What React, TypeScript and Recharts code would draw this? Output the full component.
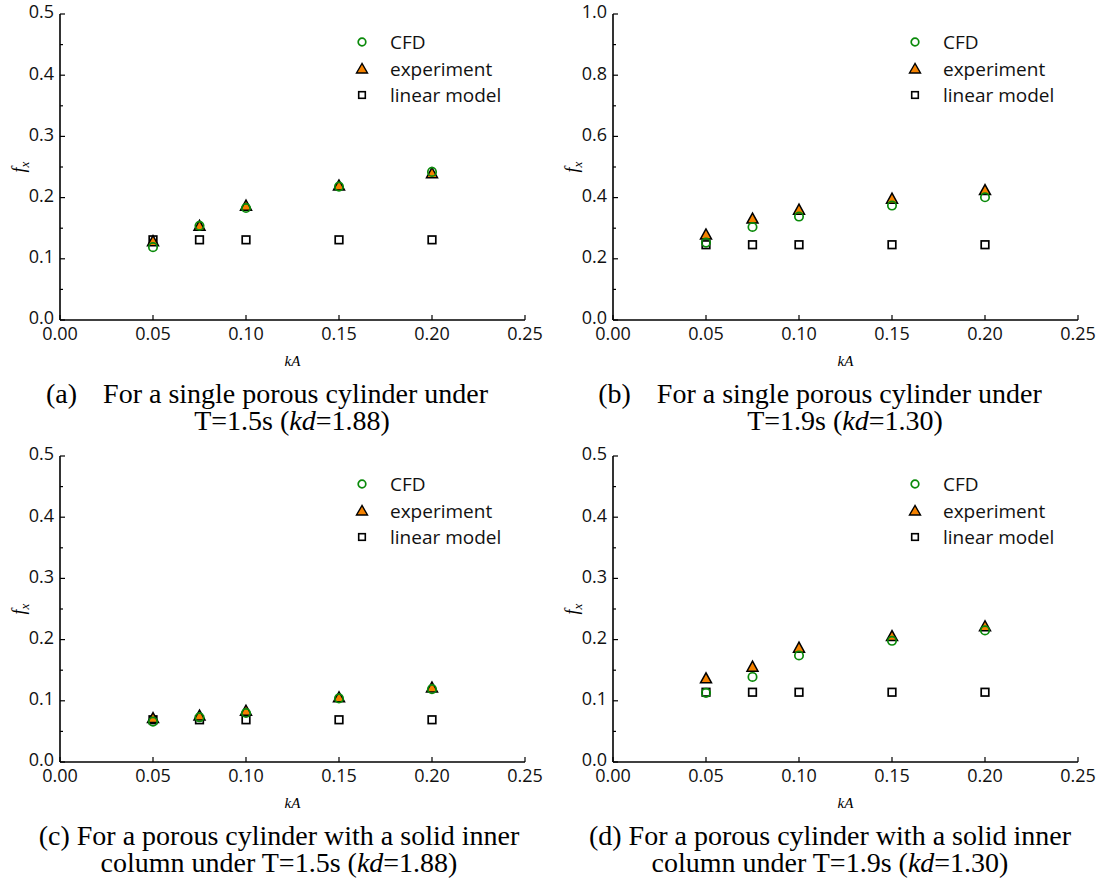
import React from 'react';
import { ScatterChart, Scatter, XAxis, YAxis, Legend, Label } from 'recharts';

const kA = [0.05, 0.075, 0.1, 0.15, 0.2];
const xTicks = [0, 0.05, 0.1, 0.15, 0.2, 0.25];
const yTicksHalf = [0, 0.05, 0.1, 0.15, 0.2, 0.25, 0.3, 0.35, 0.4, 0.45, 0.5];
const yMajorHalf = [0, 0.1, 0.2, 0.3, 0.4, 0.5];
const yTicksOne = [0, 0.1, 0.2, 0.3, 0.4, 0.5, 0.6, 0.7, 0.8, 0.9, 1.0];
const yMajorOne = [0, 0.2, 0.4, 0.6, 0.8, 1.0];

const cfdA = [0.119, 0.154, 0.183, 0.218, 0.242];
const expA = [0.128, 0.153, 0.186, 0.219, 0.239];
const linA = [0.131, 0.131, 0.131, 0.131, 0.131];

const cfdB = [0.253, 0.304, 0.338, 0.374, 0.401];
const expB = [0.278, 0.33, 0.359, 0.395, 0.423];
const linB = [0.246, 0.246, 0.246, 0.246, 0.246];

const cfdC = [0.066, 0.073, 0.08, 0.104, 0.119];
const expC = [0.071, 0.075, 0.083, 0.105, 0.121];
const linC = [0.069, 0.069, 0.069, 0.069, 0.069];

const cfdD = [0.113, 0.139, 0.174, 0.198, 0.215];
const expD = [0.136, 0.155, 0.186, 0.205, 0.221];
const linD = [0.114, 0.114, 0.114, 0.114, 0.114];

const seriesNames = ['CFD', 'experiment', 'linear model'];

const GREEN = '#0a8a0a';
const ORANGE = '#f58200';
const TICK_FONT = '"Open Sans", "Noto Sans", sans-serif';
const SERIF = '"Liberation Serif", "Times New Roman", serif';

const toPts = (vals: number[]) => kA.map((x, i) => ({ x, y: vals[i] }));

const CircleShape = (p: any) => (
  <circle cx={p.cx} cy={p.cy} r={4.2} fill="none" stroke={GREEN} strokeWidth={1.7} />
);
const TriShape = (p: any) => {
  const { cx, cy } = p;
  const h = 10;
  const w = 11;
  return (
    <polygon
      points={`${cx},${cy - h * 0.6} ${cx - w / 2},${cy + h * 0.4} ${cx + w / 2},${cy + h * 0.4}`}
      fill={ORANGE}
      stroke="#000"
      strokeWidth={1.5}
      strokeLinejoin="miter"
    />
  );
};
const SquareShape = (p: any) => (
  <rect x={p.cx - 3.8} y={p.cy - 3.8} width={7.6} height={7.6} fill="#fff" stroke="#000" strokeWidth={1.7} />
);

const BottomTick = (p: any) => {
  const { x, y, payload } = p;
  const axisY = y - 7;
  return (
    <g>
      <line x1={x} y1={axisY} x2={x} y2={axisY - 5} stroke="#000" strokeWidth={1.2} />
      <text x={x} y={y} dy="0.71em" textAnchor="middle" fontFamily={TICK_FONT} fontSize={18} fill="#111">
        {Number(payload.value).toFixed(2)}
      </text>
    </g>
  );
};

const TopTick = (p: any) => {
  const { x, y } = p;
  return <line x1={x} y1={y} x2={x} y2={y + 5} stroke="#000" strokeWidth={1.2} />;
};

const makeLeftTick = (majors: number[]) => (p: any) => {
  const { x, y, payload } = p;
  const axisX = x + 6;
  const v = payload.value;
  const isMajor = majors.some((m) => Math.abs(m - v) < 1e-9);
  return (
    <g>
      <line x1={axisX} y1={y} x2={axisX + (isMajor ? 5 : 3)} y2={y} stroke="#000" strokeWidth={1.2} />
      {isMajor ? (
        <text x={x} y={y - 2} dy="0.35em" textAnchor="end" fontFamily={TICK_FONT} fontSize={18} fill="#111">
          {Number(v).toFixed(1)}
        </text>
      ) : null}
    </g>
  );
};

const RightTick = (p: any) => {
  const { x, y } = p;
  return <line x1={x} y1={y} x2={x - 5} y2={y} stroke="#000" strokeWidth={1.2} />;
};

const FxLabel = (props: any) => {
  const vb = props.viewBox || {};
  const cx = vb.x + 15;
  const cy = vb.y + vb.height / 2;
  return (
    <text
      transform={`translate(${cx},${cy}) rotate(-90)`}
      textAnchor="middle"
      fontFamily={SERIF}
      fontStyle="italic"
      fontSize={18}
      fill="#000"
    >
      <tspan>f</tspan>
      <tspan dy={4} fontSize={13}>x</tspan>
    </text>
  );
};

const LegendBox = () => {
  const icons = [
    <circle key="c" cx={10} cy={10} r={3.8} fill="none" stroke={GREEN} strokeWidth={1.7} />,
    <polygon key="t" points="10,4.5 4.5,14 15.5,14" fill={ORANGE} stroke="#000" strokeWidth={1.4} />,
    <rect key="s" x={6.7} y={6.7} width={6.6} height={6.6} fill="#fff" stroke="#000" strokeWidth={1.6} />,
  ];
  return (
    <div style={{ fontFamily: TICK_FONT, fontSize: 19, color: '#111' }}>
      {seriesNames.map((n, i) => (
        <div key={n} style={{ display: 'flex', alignItems: 'center', height: 26.5 }}>
          <svg width={20} height={20} style={{ display: 'block' }}>
            {icons[i]}
          </svg>
          <span style={{ marginLeft: 18, lineHeight: '20px' }}>{n}</span>
        </div>
      ))}
    </div>
  );
};

type PanelProps = {
  cfd: number[];
  exp: number[];
  lin: number[];
  yMax: number;
  yTicks: number[];
  yMajor: number[];
};

const Panel = ({ cfd, exp, lin, yMax, yTicks, yMajor }: PanelProps) => {
  const LeftTick = makeLeftTick(yMajor);
  return (
    <ScatterChart width={545} height={380} margin={{ top: 14, right: 20, bottom: 30, left: 10 }}>
      <XAxis
        xAxisId={0}
        type="number"
        dataKey="x"
        domain={[0, 0.25]}
        ticks={xTicks}
        allowDataOverflow
        height={30}
        tickSize={0}
        tickMargin={7}
        tick={BottomTick}
        axisLine={{ stroke: '#000', strokeWidth: 1.6 }}
        interval={0}
      >
        <Label value="kA" position="bottom" offset={5} fontFamily={SERIF} fontStyle="italic" fontSize={15} fill="#000" />
      </XAxis>
      <XAxis
        xAxisId="top"
        orientation="top"
        type="number"
        domain={[0, 0.25]}
        ticks={xTicks}
        allowDataOverflow
        height={0}
        tickSize={0}
        tickMargin={0}
        tick={TopTick}
        axisLine={{ stroke: '#000', strokeWidth: 1.6 }}
        interval={0}
      />
      <YAxis
        yAxisId={0}
        type="number"
        dataKey="y"
        domain={[0, yMax]}
        ticks={yTicks}
        allowDataOverflow
        width={50}
        tickSize={0}
        tickMargin={6}
        tick={LeftTick}
        axisLine={{ stroke: '#000', strokeWidth: 1.6 }}
        interval={0}
      >
        <Label content={FxLabel} />
      </YAxis>
      <YAxis
        yAxisId="right"
        orientation="right"
        type="number"
        domain={[0, yMax]}
        ticks={yMajor}
        allowDataOverflow
        width={0}
        tickSize={0}
        tickMargin={0}
        tick={RightTick}
        axisLine={{ stroke: '#000', strokeWidth: 1.6 }}
        interval={0}
      />
      <Legend
        layout="vertical"
        align="center"
        verticalAlign="middle"
        content={LegendBox}
        wrapperStyle={{ left: 352, top: 29, width: 190, height: 80 }}
      />
      <Scatter name="linear model" data={toPts(lin)} shape={SquareShape} isAnimationActive={false} />
      <Scatter name="experiment" data={toPts(exp)} shape={TriShape} isAnimationActive={false} />
      <Scatter name="CFD" data={toPts(cfd)} shape={CircleShape} isAnimationActive={false} />
    </ScatterChart>
  );
};

const Caption = ({ left, top, width, line1, line2 }: any) => (
  <div
    style={{
      position: 'absolute',
      left,
      top,
      width,
      textAlign: 'center',
      fontFamily: SERIF,
      fontSize: 28,
      lineHeight: '27px',
      color: '#000',
      whiteSpace: 'nowrap',
    }}
  >
    <div>{line1}</div>
    <div>{line2}</div>
  </div>
);

export default function App() {
  return (
    <div style={{ position: 'absolute', left: 0, top: 0, width: 1103, height: 884, background: '#fff', overflow: 'hidden' }}>
      <div style={{ position: 'absolute', left: 0, top: 0 }}>
        <Panel cfd={cfdA} exp={expA} lin={linA} yMax={0.5} yTicks={yTicksHalf} yMajor={yMajorHalf} />
      </div>
      <div style={{ position: 'absolute', left: 553, top: 0 }}>
        <Panel cfd={cfdB} exp={expB} lin={linB} yMax={1.0} yTicks={yTicksOne} yMajor={yMajorOne} />
      </div>
      <div style={{ position: 'absolute', left: 0, top: 442 }}>
        <Panel cfd={cfdC} exp={expC} lin={linC} yMax={0.5} yTicks={yTicksHalf} yMajor={yMajorHalf} />
      </div>
      <div style={{ position: 'absolute', left: 553, top: 442 }}>
        <Panel cfd={cfdD} exp={expD} lin={linD} yMax={0.5} yTicks={yTicksHalf} yMajor={yMajorHalf} />
      </div>
      <Caption
        left={17}
        top={380}
        width={500}
        line1={<><span>(a)</span><span style={{ display: 'inline-block', width: 26 }} />For a single porous cylinder under</>}
        line2={<span style={{ position: 'relative', left: 25 }}>T=1.5s (<i>kd</i>=1.88)</span>}
      />
      <Caption
        left={570}
        top={380}
        width={500}
        line1={<><span>(b)</span><span style={{ display: 'inline-block', width: 26 }} />For a single porous cylinder under</>}
        line2={<span style={{ position: 'relative', left: 25 }}>T=1.9s (<i>kd</i>=1.30)</span>}
      />
      <Caption
        left={29}
        top={822}
        width={500}
        line1={<>(c) For a porous cylinder with a solid inner</>}
        line2={<>column under T=1.5s (<i>kd</i>=1.88)</>}
      />
      <Caption
        left={580}
        top={822}
        width={500}
        line1={<>(d) For a porous cylinder with a solid inner</>}
        line2={<>column under T=1.9s (<i>kd</i>=1.30)</>}
      />
    </div>
  );
}
